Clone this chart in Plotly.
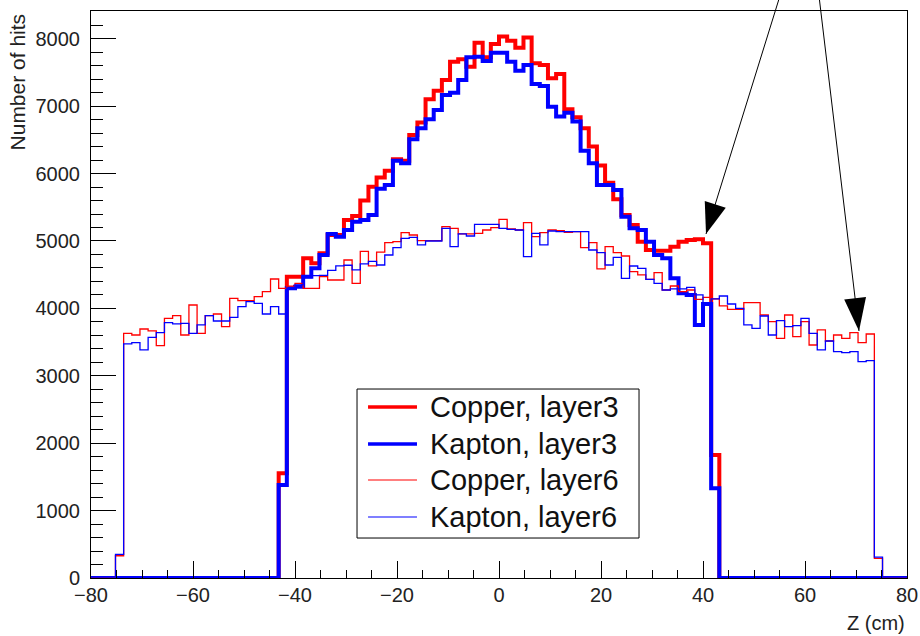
import numpy as np
import plotly.graph_objects as go

# Histogram binning (ROOT TH1: 100 bins from -80 to 80 cm)
BIN_MIN, BIN_MAX, N_BINS = -80.0, 80.0, 100

copper_layer3 = [
    0, 0, 0, 0, 0, 0, 0, 0, 0, 0, 0, 0, 0, 0, 0, 0, 0, 0, 0, 0, 0, 0, 0,
    1553, 4471, 4471, 4743, 4669, 4817, 5089, 5089, 5312, 5371, 5600,
    5806, 5940, 6043, 6212, 6190, 6573, 6756, 7102, 7230, 7389,
    7660, 7695, 7586, 7942, 7725, 7923, 8032, 7972, 7868, 8017,
    7636, 7611, 7413, 7478, 6954, 6835, 6672, 6400, 6118, 5865,
    5620, 5386, 5237, 4990, 4866, 4856, 4856, 4916, 4990, 5015,
    5025, 4965, 1825,
    0, 0, 0, 0, 0, 0, 0, 0, 0, 0, 0, 0, 0, 0, 0, 0, 0, 0, 0, 0, 0, 0, 0,
]
kapton_layer3 = [
    0, 0, 0, 0, 0, 0, 0, 0, 0, 0, 0, 0, 0, 0, 0, 0, 0, 0, 0, 0, 0, 0, 0,
    1380, 4298, 4322, 4471, 4595, 4792, 5104, 5064, 5163, 5287, 5312,
    5386, 5775, 5831, 6192, 6152, 6508, 6672, 6805, 6944, 7166,
    7201, 7389, 7725, 7735, 7671, 7794, 7794, 7660, 7527, 7611,
    7329, 7300, 6993, 6845, 6904, 6771, 6340, 6152, 5831, 5831,
    5757, 5361, 5188, 5163, 4990, 4792, 4743, 4446, 4224, 4199,
    3754, 4065, 1331,
    0, 0, 0, 0, 0, 0, 0, 0, 0, 0, 0, 0, 0, 0, 0, 0, 0, 0, 0, 0, 0, 0, 0,
]
copper_layer6 = [
    0, 0, 0, 330,
    3630, 3605, 3694, 3665, 3447, 3853, 3892, 3605, 4050, 3630,
    3892, 3917, 3729, 4149, 4115, 4115, 4174, 4248, 4436, 4298,
    4330, 4370, 4298, 4298, 4471, 4421, 4421, 4718, 4370, 4845,
    4630, 4835, 4975, 4990, 5124, 5089, 5005, 5005, 5005, 5213,
    5188, 5104, 5104, 5114, 5163, 5198, 5321, 5178, 5163, 5272,
    5064, 5124, 5163, 5153, 5129, 5138, 4901, 4975, 4585, 4916,
    4827, 4777, 4545, 4496, 4431, 4530, 4273, 4332, 4248, 4273,
    4135, 4164, 4140, 4036, 3986, 3986, 4085, 4085, 3902, 3803,
    3556, 3902, 3581, 3803, 3457, 3680, 3516, 3605, 3556, 3640,
    3491, 3620, 290, 0, 0, 0,
]
kapton_layer6 = [
    0, 0, 0, 350,
    3472, 3492, 3383, 3570, 3640, 3788, 3769, 3779, 3630, 3754,
    3892, 3813, 3813, 3868, 4026, 4100, 4075, 3917, 4026, 3917,
    4300, 4350, 4456, 4485, 4490, 4565, 4630, 4640, 4570, 4659,
    4698, 4644, 4792, 4901, 5040, 5054, 4941, 5000, 5000, 5188,
    4916, 5104, 5074, 5247, 5247, 5247, 5188, 5173, 5163, 4768,
    5114, 4941, 5148, 5138, 5138, 5138, 5138, 4866, 4827, 4644,
    4758, 4446, 4629, 4595, 4431, 4372, 4273, 4288, 4288, 4313,
    4200, 4065, 4140, 4184, 4065, 4001, 3754, 3704, 3887, 3605,
    3818, 3729, 3744, 3853, 3630, 3383, 3516, 3358, 3343, 3358,
    3210, 3224, 310, 0, 0, 0,
]

series_names = ["Copper, layer3", "Kapton, layer3", "Copper, layer6", "Kapton, layer6"]
series_values = [copper_layer3, kapton_layer3, copper_layer6, kapton_layer6]
series_colors = ["#ff0000", "#0000ff", "#ff0000", "#0000ff"]
series_widths = [4, 4, 1.3, 1.3]

x_ticks = [-80, -60, -40, -20, 0, 20, 40, 60, 80]
y_ticks = [0, 1000, 2000, 3000, 4000, 5000, 6000, 7000, 8000]

edges = np.linspace(BIN_MIN, BIN_MAX, N_BINS + 1)
Y_MAX = 8412

FONT = "Liberation Sans, Arial, Helvetica, sans-serif"

fig = go.Figure()
for name, vals, col, w in zip(series_names, series_values, series_colors, series_widths):
    fig.add_trace(go.Scatter(
        x=list(edges), y=list(vals) + [vals[-1]],
        mode="lines", name=name, showlegend=False, hoverinfo="skip",
        line=dict(color=col, width=w, shape="hv"),
    ))

fig.update_layout(
    width=920, height=636,
    margin=dict(l=91, r=13, t=11, b=58, autoexpand=False),
    paper_bgcolor="white", plot_bgcolor="white",
    font=dict(family=FONT, color="black", size=20),
    xaxis=dict(
        range=[BIN_MIN, BIN_MAX], tickmode="array", tickvals=x_ticks,
        automargin=False,
        ticks="inside", ticklen=17, tickwidth=1, tickcolor="black",
        showline=True, linecolor="black", linewidth=1, mirror=True,
        showgrid=False, zeroline=False, ticklabelstandoff=-1,
        tickfont=dict(size=20, family=FONT, color="#222"),
        minor=dict(dtick=5, tick0=-80, ticks="inside", ticklen=8, tickwidth=1,
                   tickcolor="black", showgrid=False),
    ),
    yaxis=dict(
        range=[0, Y_MAX], tickmode="array", tickvals=y_ticks,
        automargin=False,
        ticks="inside", ticklen=25, tickwidth=1, tickcolor="black",
        showline=True, linecolor="black", linewidth=1, mirror=True,
        showgrid=False, zeroline=False, ticklabelstandoff=6,
        tickfont=dict(size=20, family=FONT, color="#222"),
        minor=dict(dtick=200, tick0=0, ticks="inside", ticklen=12, tickwidth=1,
                   tickcolor="black", showgrid=False),
    ),
)

# Axis titles (ROOT style: aligned to the end of the axes)
fig.add_annotation(text="Number of hits", textangle=-90, xref="paper", yref="paper",
                   x=-0.0895, y=1.0, xanchor="center", yanchor="top", showarrow=False,
                   font=dict(size=21, family=FONT, color="#222"))
fig.add_annotation(text="Z (cm)", xref="paper", yref="paper", x=1.0, y=-0.0794,
                   xanchor="right", yanchor="middle", showarrow=False,
                   font=dict(size=20, family=FONT, color="#222"))

# Arrows pointing at the layer-3 and layer-6 edges
arrows = [
    dict(tip=(40.59, 5104), tail=(54.94, 8600), head="M0,0 L19.75,26.3 L-1.25,32.9 Z"),
    dict(tip=(70.59, 3664), tail=(62.8, 8600), head="M0,0 L7.0,34.1 L-14.8,31.5 Z"),
]
for a in arrows:
    fig.add_annotation(x=a["tip"][0], y=a["tip"][1], ax=a["tail"][0], ay=a["tail"][1],
                       xref="x", yref="y", axref="x", ayref="y", text="",
                       showarrow=True, arrowhead=0, arrowwidth=1, arrowcolor="black",
                       standoff=0, startstandoff=0)
    fig.add_shape(type="path", xref="x", yref="y", xsizemode="pixel", ysizemode="pixel",
                  xanchor=a["tip"][0], yanchor=a["tip"][1], path=a["head"],
                  fillcolor="black", line=dict(width=0), layer="above")

# Legend (ROOT TLegend style)
lx0, lx1, ly0, ly1 = 0.326, 0.6716, 0.0705, 0.3333
fig.add_shape(type="rect", xref="paper", yref="paper", x0=lx0, x1=lx1, y0=ly0, y1=ly1,
              line=dict(color="black", width=1), fillcolor="white", layer="above")
row_y = [0.3016, 0.2363, 0.1728, 0.1076]
legend_widths = [3.5, 3.5, 1.2, 1.2]
for name, col, w, ry in zip(series_names, series_colors, legend_widths, row_y):
    fig.add_shape(type="line", xref="paper", yref="paper", x0=0.3395, x1=0.3995,
                  y0=ry, y1=ry, line=dict(color=col, width=w), layer="above")
    fig.add_annotation(text=name, xref="paper", yref="paper", x=0.413, y=ry,
                       xanchor="left", yanchor="middle", showarrow=False,
                       font=dict(size=29, family=FONT, color="#111"))

fig.write_html("out.html", config={"displayModeBar": False},
               post_script="document.body.style.margin='0';")
